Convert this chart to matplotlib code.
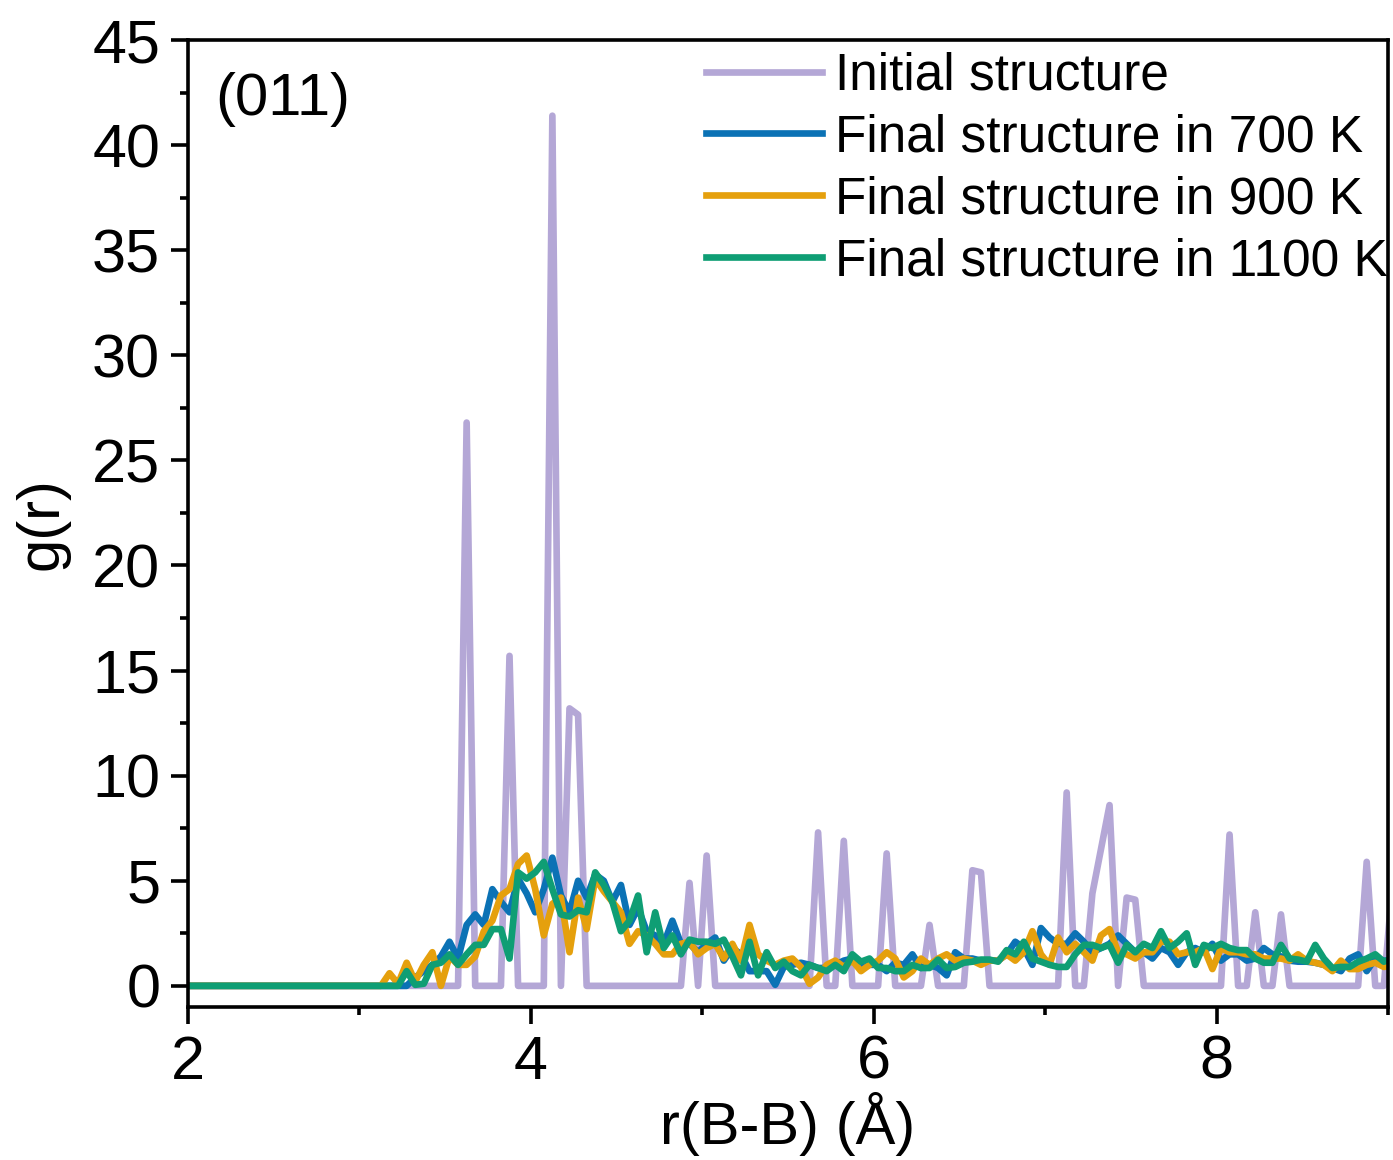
import numpy as np
import matplotlib
matplotlib.use("Agg")
import matplotlib.pyplot as plt
from matplotlib.ticker import MultipleLocator

plt.rcParams['font.family'] = ['Liberation Sans', 'DejaVu Sans']

# ---------------- data ----------------
# sampling grid (bin centres, Å)
r_grid = np.round(np.arange(1.975, 9.0251, 0.05), 3)

# initial structure: non-zero bins only
init_peak_r = [3.625, 3.875, 4.125, 4.225, 4.275, 4.925, 5.025, 5.675, 5.825,
               6.075, 6.325, 6.575, 6.625, 7.125, 7.275, 7.325, 7.375, 7.475,
               7.525, 8.075, 8.225, 8.375, 8.875, 9.025]
init_peak_g = [26.8, 15.7, 41.4, 13.2, 12.9, 4.9, 6.2, 7.3, 6.9,
               6.3, 2.9, 5.5, 5.4, 9.2, 4.4, 6.5, 8.6, 4.2,
               4.1, 7.2, 3.5, 3.4, 5.9, 4.8]

# final structures, bins 1.975 ... 3.075 are zero, listed values from 3.125 to 9.025
g_700 = [0.0] * 23 + [
    0.0, 0.0, 0.0, 0.0, 0.4, 0.7, 1.0, 1.4, 2.1, 1.3,
    2.9, 3.4, 2.9, 4.6, 4.0, 3.5, 5.1, 4.4, 3.5, 4.6,
    6.1, 4.3, 3.5, 5.0, 4.2, 5.3, 5.0, 4.0, 4.8, 2.9,
    3.7, 2.6, 2.4, 2.0, 3.1, 2.0, 2.0, 1.6, 2.0, 2.3,
    1.2, 1.8, 1.5, 0.7, 0.7, 0.7, 0.05, 0.9, 1.0, 1.1,
    1.0, 0.85, 0.85, 1.0, 1.2, 1.3, 0.85, 1.0, 1.0, 0.7,
    1.1, 1.0, 1.5, 0.85, 1.0, 0.85, 0.5, 1.6, 1.3, 1.3,
    1.2, 1.2, 1.2, 1.5, 2.1, 1.8, 1.0, 2.75, 2.3, 2.0,
    2.0, 2.5, 2.1, 1.6, 1.8, 2.0, 2.4, 2.0, 1.6, 1.6,
    1.3, 1.8, 1.6, 1.0, 1.6, 1.8, 1.6, 2.0, 1.2, 1.5,
    1.5, 1.2, 1.3, 1.8, 1.5, 1.4, 1.2, 1.15, 1.15, 1.1,
    1.0, 0.85, 0.7, 1.3, 1.5, 0.7, 1.3, 1.2, 1.2]

g_900 = [0.0] * 23 + [
    0.0, 0.6, 0.1, 1.1, 0.2, 1.0, 1.6, 0.0, 1.4, 1.0,
    1.0, 1.4, 2.6, 3.1, 4.3, 4.6, 5.8, 6.2, 4.6, 2.4,
    3.9, 4.2, 1.6, 4.2, 2.7, 5.1, 4.5, 4.0, 3.5, 2.0,
    2.6, 2.4, 2.0, 1.5, 1.5, 2.0, 2.1, 1.5, 1.8, 2.0,
    1.3, 2.0, 1.2, 2.9, 1.5, 1.2, 1.0, 1.2, 1.3, 0.9,
    0.1, 0.4, 1.0, 1.2, 0.9, 1.2, 0.7, 1.0, 1.2, 1.6,
    1.3, 0.4, 0.7, 1.3, 1.0, 1.3, 1.5, 1.2, 1.3, 1.2,
    1.0, 1.2, 1.2, 1.5, 1.2, 1.6, 2.6, 1.5, 1.0, 2.3,
    1.6, 2.0, 1.6, 1.2, 2.4, 2.7, 1.6, 1.5, 1.3, 1.6,
    1.6, 2.1, 2.1, 1.5, 1.6, 1.6, 1.8, 0.8, 1.8, 1.6,
    1.6, 1.5, 1.5, 1.3, 1.3, 1.3, 1.2, 1.5, 1.2, 1.1,
    1.0, 0.7, 1.2, 0.8, 0.8, 1.0, 1.1, 0.9, 1.0]

g_1100 = [0.0] * 23 + [
    0.0, 0.0, 0.0, 0.7, 0.05, 0.1, 1.0, 1.1, 1.5, 1.0,
    1.5, 1.95, 1.95, 2.7, 2.7, 1.3, 5.4, 5.1, 5.4, 5.9,
    4.6, 3.4, 3.3, 3.6, 3.5, 5.4, 4.8, 4.0, 2.6, 3.1,
    4.3, 1.6, 3.5, 1.8, 2.4, 1.5, 2.2, 2.1, 2.1, 2.0,
    2.2, 1.4, 0.5, 2.1, 0.5, 1.6, 0.85, 1.15, 0.7, 0.5,
    1.0, 0.85, 0.7, 1.0, 0.7, 1.5, 1.15, 1.3, 0.85, 0.85,
    0.7, 0.7, 1.0, 0.85, 0.85, 1.25, 0.85, 0.9, 1.1, 1.15,
    1.25, 1.25, 1.15, 1.7, 1.5, 2.1, 1.3, 1.15, 1.0, 0.9,
    0.9, 1.5, 1.95, 1.95, 1.8, 1.95, 1.1, 1.95, 1.6, 2.0,
    1.8, 2.6, 1.8, 2.1, 2.5, 1.0, 1.95, 1.8, 2.0, 1.8,
    1.7, 1.7, 1.3, 1.1, 1.1, 1.95, 1.3, 1.25, 1.15, 1.95,
    1.3, 0.85, 0.9, 0.9, 1.15, 1.3, 1.5, 1.15, 1.3]

labels = ["Initial structure", "Final structure in 700 K",
          "Final structure in 900 K", "Final structure in 1100 K"]
colors = ["#b4a7d6", "#0b72b5", "#e5a00d", "#0f9e74"]

# build initial series on the grid
g_init = np.zeros_like(r_grid)
for rp, gp in zip(init_peak_r, init_peak_g):
    g_init[np.argmin(np.abs(r_grid - rp))] = gp

# ---------------- plot ----------------
fig = plt.figure(figsize=(13.93, 11.60), dpi=100)
ax = fig.add_axes([0.135, 0.132, 0.8615, 0.8335])

lw = 4.8
ax.plot(r_grid, g_init, color=colors[0], lw=lw, label=labels[0])
ax.plot(r_grid, g_700, color=colors[1], lw=lw, label=labels[1])
ax.plot(r_grid, g_900, color=colors[2], lw=lw, label=labels[2])
ax.plot(r_grid, g_1100, color=colors[3], lw=lw, label=labels[3])

ax.set_xlim(2, 9)
ax.set_ylim(-1, 45)
ax.xaxis.set_major_locator(MultipleLocator(2))
ax.xaxis.set_minor_locator(MultipleLocator(1))
ax.yaxis.set_major_locator(MultipleLocator(5))
ax.yaxis.set_minor_locator(MultipleLocator(2.5))

for s in ax.spines.values():
    s.set_linewidth(2.6)
ax.tick_params(which='major', direction='out', length=12, width=2.6,
               labelsize=44, pad=8, top=False, right=False)
ax.tick_params(which='minor', direction='out', length=6, width=2.6,
               top=False, right=False)

ax.set_xlabel("r(B-B) (Å)", fontsize=43, labelpad=0)
ax.set_ylabel("g(r)", fontsize=43, labelpad=16)

ax.text(0.023, 0.967, "(011)", transform=ax.transAxes, fontsize=43,
        ha='left', va='top')

leg = ax.legend(loc='upper right', bbox_to_anchor=(1.025, 1.02), frameon=False,
                fontsize=37, handlelength=2.25, handletextpad=0.25,
                labelspacing=0.25, borderaxespad=0.2)

fig.savefig("out.png", dpi=100)
